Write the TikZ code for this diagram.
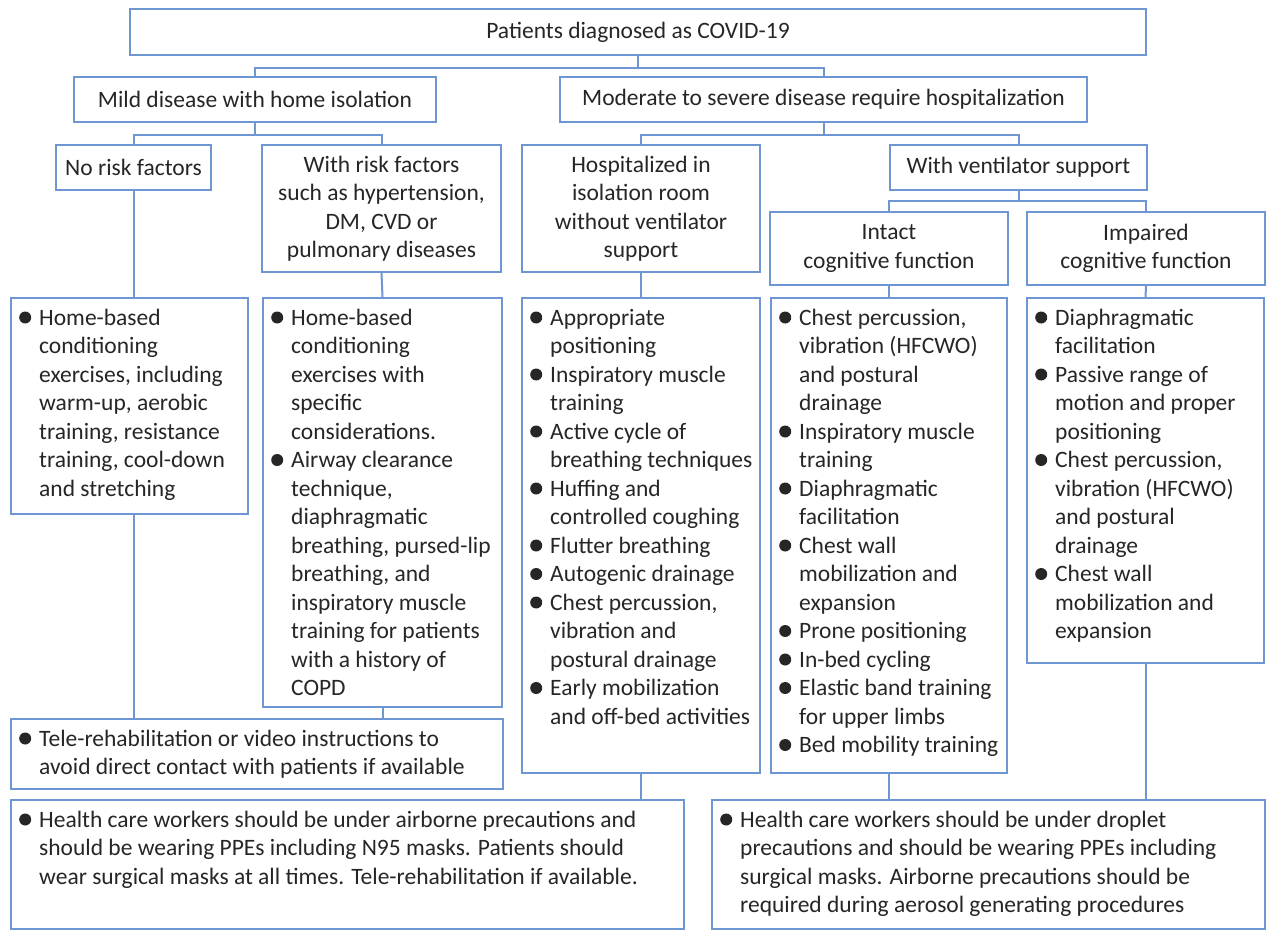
\documentclass[tikz,border=0pt]{standalone}
\usepackage{fontspec}
\setmainfont{Carlito}
\definecolor{ln}{RGB}{110,150,210}
\definecolor{tx}{RGB}{38,38,38}
\newcommand\Bul{\makebox[20pt][l]{\tikz[x=1pt,y=1pt,baseline=-7.5pt]\fill[tx] (6,0) circle (6);}}
\newcommand\Ind{\hspace*{20pt}}
\newcommand\fs{\fontsize{23.5}{28.5}\selectfont}
\tikzset{
  box/.style={draw=ln, line width=2pt, inner sep=0pt, anchor=north west, text=tx, font=\fs},
  hdr/.style={box, align=center},
  lst/.style={anchor=base west, inner sep=0pt, font=\fs, text=tx},
  conn/.style={draw=ln, line width=2pt},
}
\begin{document}
\begin{tikzpicture}[x=1pt,y=-1pt]
\useasboundingbox (0,0) rectangle (1266,930);
\fill[white] (0,0) rectangle (1266,930);
% header boxes
\node[hdr, minimum width=1016, minimum height=46] (top) at (129,8) {Patients diagnosed as COVID-19};
\node[hdr, minimum width=362, minimum height=45] (mild) at (73,76) {Mild disease with home isolation};
\node[hdr, minimum width=527, minimum height=45] (mod) at (559,76) {Moderate to severe disease require hospitalization};
\node[hdr, minimum width=155, minimum height=45] (norisk) at (55,144) {No risk factors};
\node[hdr, minimum width=239, minimum height=127] (risk) at (261,144) {With risk factors\\such as hypertension,\\DM, CVD or\\pulmonary diseases};
\node[hdr, minimum width=238, minimum height=127] (hosp) at (521,144) {Hospitalized in\\isolation room\\without ventilator\\support};
\node[hdr, minimum width=257, minimum height=45] (vent) at (889,144) {With ventilator support};
\node[hdr, minimum width=238, minimum height=73] (intact) at (769,211) {Intact\\cognitive function};
\node[hdr, minimum width=238, minimum height=73] (impaired) at (1026,211) {Impaired\\cognitive function};
% list boxes
\node[box, minimum width=237, minimum height=216] (L1) at (10,297) {};
\node[box, minimum width=239, minimum height=409] (L2) at (262,297) {};
\node[box, minimum width=238, minimum height=475] (L3) at (521,297) {};
\node[box, minimum width=236, minimum height=475] (L4) at (770,297) {};
\node[box, minimum width=237, minimum height=365] (L5) at (1026,297) {};
\node[box, minimum width=492, minimum height=70] (tele) at (10,718) {};
\node[box, minimum width=673, minimum height=129] (bl) at (10,799) {};
\node[box, minimum width=553, minimum height=129] (br) at (711,799) {};
% list texts
\node[lst] (t1) at (19,325) {\begin{tabular}[t]{@{}l@{}}
\Bul Home-based\\ \Ind conditioning\\ \Ind exercises, including\\ \Ind warm-up, aerobic\\
\Ind training, resistance\\ \Ind training, cool-down\\ \Ind and stretching
\end{tabular}};
\node[lst] (t2) at (271,325) {\begin{tabular}[t]{@{}l@{}}
\Bul Home-based\\ \Ind conditioning\\ \Ind exercises with\\ \Ind specific\\ \Ind considerations.\\
\Bul Airway clearance\\ \Ind technique,\\ \Ind diaphragmatic\\ \Ind breathing, pursed-lip\\
\Ind breathing, and\\ \Ind inspiratory muscle\\ \Ind training for patients\\ \Ind with a history of\\ \Ind COPD
\end{tabular}};
\node[lst] (t3) at (530,325) {\begin{tabular}[t]{@{}l@{}}
\Bul Appropriate\\ \Ind positioning\\ \Bul Inspiratory muscle\\ \Ind training\\
\Bul Active cycle of\\ \Ind breathing techniques\\ \Bul Huffing and\\ \Ind controlled coughing\\
\Bul Flutter breathing\\ \Bul Autogenic drainage\\ \Bul Chest percussion,\\ \Ind vibration and\\
\Ind postural drainage\\ \Bul Early mobilization\\ \Ind and off-bed activities
\end{tabular}};
\node[lst] (t4) at (779,325) {\begin{tabular}[t]{@{}l@{}}
\Bul Chest percussion,\\ \Ind vibration (HFCWO)\\ \Ind and postural\\ \Ind drainage\\
\Bul Inspiratory muscle\\ \Ind training\\ \Bul Diaphragmatic\\ \Ind facilitation\\
\Bul Chest wall\\ \Ind mobilization and\\ \Ind expansion\\ \Bul Prone positioning\\
\Bul In-bed cycling\\ \Bul Elastic band training\\ \Ind for upper limbs\\ \Bul Bed mobility training
\end{tabular}};
\node[lst] (t5) at (1035,325) {\begin{tabular}[t]{@{}l@{}}
\Bul Diaphragmatic\\ \Ind facilitation\\ \Bul Passive range of\\ \Ind motion and proper\\
\Ind positioning\\ \Bul Chest percussion,\\ \Ind vibration (HFCWO)\\ \Ind and postural\\
\Ind drainage\\ \Bul Chest wall\\ \Ind mobilization and\\ \Ind expansion
\end{tabular}};
\node[lst] (tt) at (19,746) {\begin{tabular}[t]{@{}l@{}}
\Bul Tele-rehabilitation or video instructions to\\ \Ind avoid direct contact with patients if available
\end{tabular}};
\node[lst] (tbl) at (19,827) {\begin{tabular}[t]{@{}l@{}}
\Bul Health care workers should be under airborne precautions and\\
\Ind should be wearing PPEs including N95 masks. Patients should\\
\Ind wear surgical masks at all times. Tele-rehabilitation if available.
\end{tabular}};
\node[lst] (tbr) at (720,827) {\begin{tabular}[t]{@{}l@{}}
\Bul Health care workers should be under droplet\\
\Ind precautions and should be wearing PPEs including\\
\Ind surgical masks. Airborne precautions should be\\
\Ind required during aerosol generating procedures
\end{tabular}};
% connectors
\draw[conn] (top.south) -- ++(0,12) -| (mild.north);
\draw[conn] (top.south) -- ++(0,12) -| (mod.north);
\draw[conn] (mild.south) -- ++(0,12) -| (norisk.north);
\draw[conn] (mild.south) -- ++(0,12) -| (risk.north);
\draw[conn] (mod.south) -- ++(0,12) -| (hosp.north);
\draw[conn] (mod.south) -- ++(0,12) -| (vent.north);
\draw[conn] (vent.south) -- ++(0,10) -| (intact.north);
\draw[conn] (vent.south) -- ++(0,10) -| (impaired.north);
\draw[conn] (norisk.south) -- (norisk.south |- L1.north);
\draw[conn] (risk.south) -- (L2.north);
\draw[conn] (hosp.south) -- (L3.north);
\draw[conn] (intact.south) -- (L4.north);
\draw[conn] (impaired.south) -- (L5.north);
\draw[conn] (norisk.south |- L1.south) -- (norisk.south |- tele.north);
\draw[conn] (L2.south) -- (L2.south |- tele.north);
\draw[conn] (L3.south) -- (L3.south |- bl.north);
\draw[conn] (L4.south) -- (L4.south |- br.north);
\draw[conn] (L5.south) -- (L5.south |- br.north);
\end{tikzpicture}
\end{document}
